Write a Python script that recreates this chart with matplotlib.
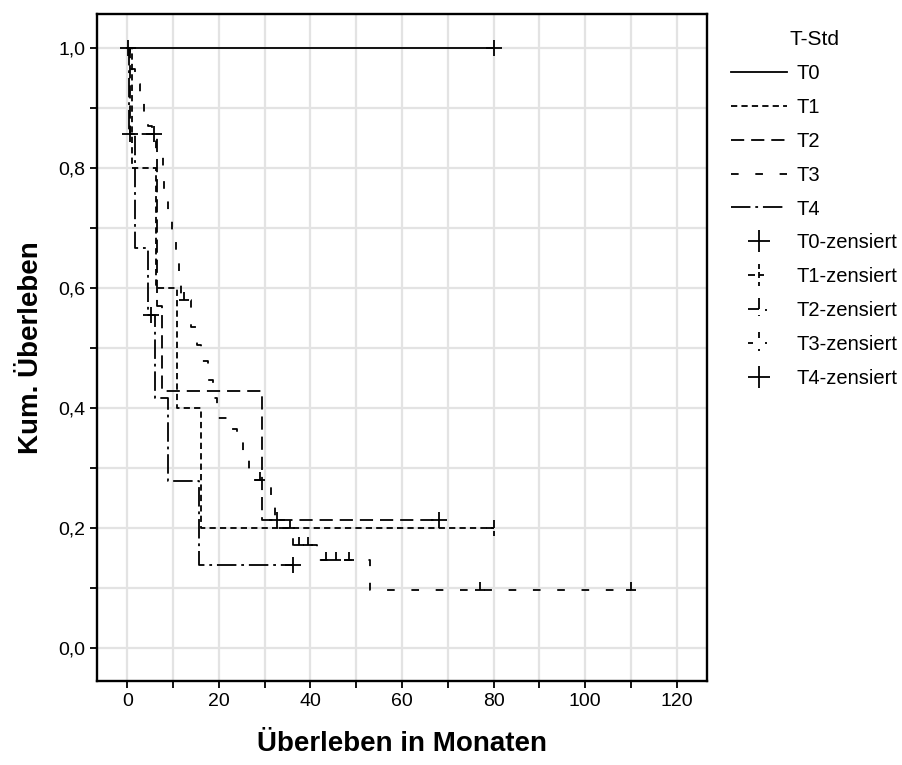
"""Kaplan-Meier curves by T stage (SPSS style), saved as out.png."""
import matplotlib

matplotlib.use("Agg")
import matplotlib.pyplot as plt
import numpy as np
from matplotlib.lines import Line2D
from matplotlib.path import Path
from matplotlib.ticker import FuncFormatter, MultipleLocator

plt.rcParams["font.family"] = ["Liberation Sans", "DejaVu Sans"]
plt.rcParams["lines.scale_dashes"] = False

GROUPS = ["T0", "T1", "T2", "T3", "T4"]

# event times (months) and survival after each event, censor times
T0_EVENTS = []
T0_SURV = []
T0_CENS = [0.2, 80.0]

T1_EVENTS = [1.1, 6.3, 10.9, 16.2]
T1_SURV = [0.8, 0.6, 0.4, 0.2]
T1_CENS = [80.0]

T2_EVENTS = [0.5, 6.5, 7.7, 29.5]
T2_SURV = [0.857, 0.571, 0.429, 0.214]
T2_CENS = [5.9, 32.6, 68.0]

T3_EVENTS = [0.5, 1.6, 2.8, 3.6, 4.5, 5.5, 6.2, 7.8, 8.1, 8.8, 9.8, 10.7, 11.4,
             11.8, 13.9, 15.2, 16.2, 17.6, 18.7, 19.6, 22.2, 24.0, 25.3, 26.5,
             31.5, 32.3, 36.2, 41.5, 53.0]
T3_SURV = [0.965, 0.94, 0.91, 0.89, 0.87, 0.85, 0.82, 0.785, 0.755, 0.72, 0.685,
           0.65, 0.615, 0.58, 0.535, 0.505, 0.478, 0.447, 0.417, 0.383, 0.365,
           0.343, 0.317, 0.28, 0.245, 0.2, 0.172, 0.147, 0.097]
T3_CENS = [12.5, 29.0, 35.6, 37.5, 39.5, 43.5, 45.5, 48.5, 77.0, 110.0]

T4_EVENTS = [0.3, 1.8, 4.5, 6.1, 8.8, 15.7]
T4_SURV = [0.857, 0.667, 0.556, 0.417, 0.278, 0.139]
T4_CENS = [0.65, 5.3, 36.3]

DATA = {
    "T0": (T0_EVENTS, T0_SURV, T0_CENS),
    "T1": (T1_EVENTS, T1_SURV, T1_CENS),
    "T2": (T2_EVENTS, T2_SURV, T2_CENS),
    "T3": (T3_EVENTS, T3_SURV, T3_CENS),
    "T4": (T4_EVENTS, T4_SURV, T4_CENS),
}


def seg_marker(segs):
    verts, codes = [], []
    for a, b in segs:
        verts += [a, b]
        codes += [Path.MOVETO, Path.LINETO]
    return Path(verts, codes)


CROSS = seg_marker([((-1, 0), (1, 0)), ((0, -1), (0, 1))])
HALF_T1 = seg_marker([((-1, 0), (0, 0)), ((0, 0), (0, 1)), ((0, -0.4), (0, -1))])
HALF_T3 = seg_marker([((-0.7, 0), (0.7, 0)), ((0, 0), (0, 1))])
# legend glyphs: censor crosses broken by each group's dash pattern
LEG_T1 = seg_marker([((-1, 0), (-0.4, 0)), ((0, 0), (0.45, 0)),
                     ((0, 1), (0, 0.55)), ((0, 0.3), (0, -0.25)),
                     ((0, -0.6), (0, -1))])
LEG_T2 = seg_marker([((-1, 0), (0, 0)), ((0, 0), (0, 1)),
                     ((0.55, -0.1), (0.72, -0.1)), ((0, -0.5), (0, -0.67))])
LEG_T3 = seg_marker([((-1, 0), (-0.5, 0)), ((0, 1), (0, 0.45)),
                     ((0.55, 0), (0.72, 0)), ((0, -0.55), (0, -0.72))])

STYLES = {
    "T0": dict(ls="-", marker=CROSS, leg=CROSS),
    "T1": dict(ls=(0, (4.5, 3)), marker=HALF_T1, leg=LEG_T1),
    "T2": dict(ls=(0, (9.5, 5)), marker=CROSS, leg=LEG_T2),
    "T3": dict(ls=(0, (5.5, 12)), marker=HALF_T3, leg=LEG_T3),
    "T4": dict(ls=(0, (14, 3.5, 2, 3.5)), marker=CROSS, leg=CROSS),
}

fig = plt.figure(figsize=(9.02, 7.65), dpi=100)
ax = fig.add_axes([97 / 902, 1 - 681 / 765, 610 / 902, 667 / 765])

for g in GROUPS:
    events, surv, cens = DATA[g]
    end = max(cens)
    xs = [0.0] + list(events) + [end]
    ys = [1.0] + list(surv) + [surv[-1] if surv else 1.0]
    ax.step(xs, ys, where="post", color="black", lw=1.3, ls=STYLES[g]["ls"])
    idx = np.searchsorted(events, cens, side="right")
    lev = [1.0 if i == 0 else surv[i - 1] for i in idx]
    ax.plot(cens, lev, ls="none", marker=STYLES[g]["marker"], ms=11, mew=1.3,
            mfc="none", color="black")

ax.set_xlim(-6.6, 126.6)
ax.set_ylim(-0.055, 1.057)
ax.xaxis.set_major_locator(MultipleLocator(20))
ax.xaxis.set_minor_locator(MultipleLocator(10))
ax.yaxis.set_major_locator(MultipleLocator(0.2))
ax.yaxis.set_minor_locator(MultipleLocator(0.1))
ax.yaxis.set_major_formatter(FuncFormatter(lambda v, p: f"{v:.1f}".replace(".", ",")))
ax.tick_params(which="both", direction="out", length=5, width=1.3, labelsize=14)
ax.grid(which="both", color="#e3e3e3", lw=1.6)
ax.set_axisbelow(True)
for s in ax.spines.values():
    s.set_linewidth(1.7)

ax.set_xlabel("Überleben in Monaten", fontsize=20, fontweight="bold", labelpad=15)
ax.set_ylabel("Kum. Überleben", fontsize=20, fontweight="bold", labelpad=10)

handles = [Line2D([], [], color="black", lw=1.3, ls=STYLES[g]["ls"]) for g in GROUPS]
handles += [Line2D([], [], color="black", ls="none", marker=STYLES[g]["leg"],
                   ms=16, mew=1.3, mfc="none") for g in GROUPS]
labels = GROUPS + [f"{g}-zensiert" for g in GROUPS]
fig.legend(handles, labels, loc="upper left", bbox_to_anchor=(731 / 902, 1 - 30 / 765),
           frameon=False, fontsize=14.5, title="T-Std", title_fontsize=15,
           handlelength=2.8, handletextpad=0.45, labelspacing=0.74,
           borderpad=0, borderaxespad=0)

fig.savefig("out.png", dpi=100)
